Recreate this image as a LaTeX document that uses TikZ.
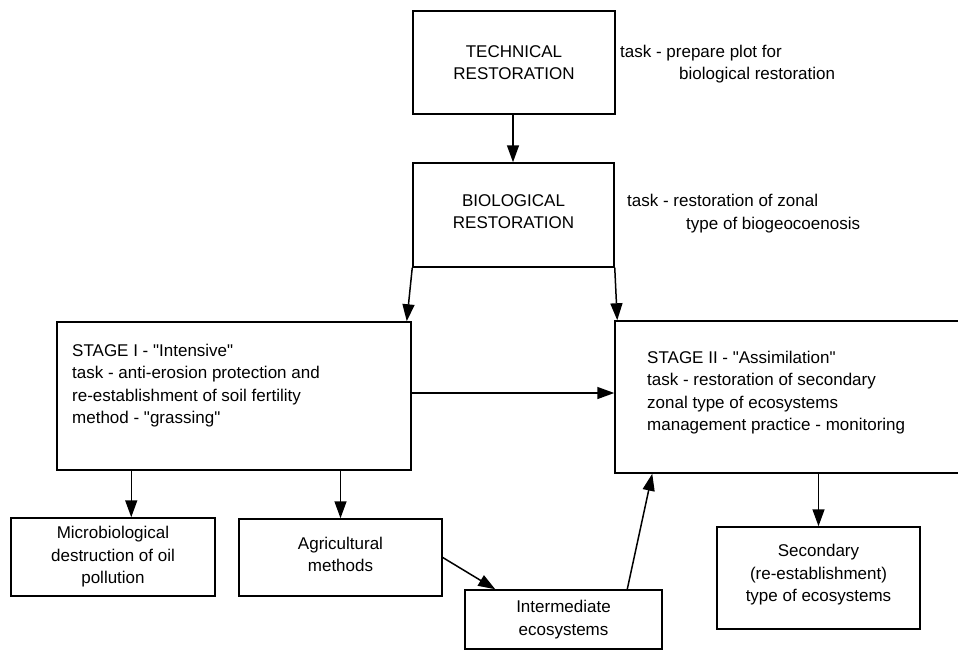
\documentclass[tikz,border=0pt]{standalone}
\usepackage{fontspec}
\setmainfont{Liberation Sans}
\usetikzlibrary{arrows.meta,calc}
\begin{document}
\begin{tikzpicture}[x=1pt,y=-1pt,
  box/.style={draw,line width=1.5pt,inner sep=0pt,align=center,font=\fontsize{17}{22.5}\selectfont},
  txt/.style={inner sep=0pt,align=left,font=\fontsize{17}{22.5}\selectfont},
  arr/.style={line width=1.5pt,-{Triangle[length=17pt,width=12pt]}}]
\useasboundingbox (0,0) rectangle (958,651);
% boxes
\node[box,minimum width=202pt,minimum height=103pt] (tech) at (514,62.5) {TECHNICAL\\RESTORATION};
\node[box,minimum width=201pt,minimum height=104pt,text depth=7pt] (bio) at (513.5,215) {BIOLOGICAL\\RESTORATION};
\node[box,minimum width=354pt,minimum height=148pt] (s1) at (234,396) {};
\node[box,minimum width=360pt,minimum height=152pt] (s2) at (795,397) {};
\node[box,minimum width=204pt,minimum height=78pt] (micro) at (113,557) {Microbiological\\destruction of oil\\pollution};
\node[box,minimum width=203pt,minimum height=77pt,text depth=6pt] (agri) at (340.5,557.5) {Agricultural\\methods};
\node[box,minimum width=197pt,minimum height=59pt] (inter) at (563.5,619.5) {Intermediate\\ecosystems};
\node[box,minimum width=203pt,minimum height=102pt,text depth=9.5pt] (sec) at (818.5,578) {Secondary\\(re-establishment)\\type of ecosystems};
% texts
\node[txt,anchor=west] (t1a) at (620,53) {task - prepare plot for};
\node[txt,anchor=west] (t1b) at (679,75) {biological restoration};
\node[txt,anchor=west] (t2a) at (627,200) {task - restoration of zonal};
\node[txt,anchor=west] (t2b) at (686,225) {type of biogeocoenosis};
\node[txt,anchor=north west] (s1t) at (72,343.5) {STAGE I - \textquotedbl Intensive\textquotedbl\\task - anti-erosion protection and\\re-establishment of soil fertility\\method - \textquotedbl grassing\textquotedbl};
\node[txt,anchor=north west] (s2t) at (647,350.5) {STAGE II - \textquotedbl Assimilation\textquotedbl\\task - restoration of secondary\\zonal type of ecosystems\\management practice - monitoring};
% connectors
\draw[arr] (tech.south -| 513,0) -- (bio.north -| 513,0);
\draw[arr] (bio.south west) -- ($(s1.north east)+(-5,0)$);
\draw[arr] (bio.south east) -- ($(s2.north west)+(3,0)$);
\draw[arr] ($(s1.east)+(0,-3)$) -- ($(s2.west)+(0,-4)$);
\draw[arr] ($(s1.south west)+(75,0)$) -- ($(micro.north west)+(121,0)$);
\draw[arr] (s1.south -| agri.north) -- (agri.north);
\draw[arr] (agri.east) -- ($(inter.north west)+(31,0)$);
\draw[arr] ($(inter.north west)+(163,0)$) -- ($(s2.south west)+(38,0)$);
\draw[arr] (s2.south -| sec.north) -- (sec.north);
\end{tikzpicture}
\end{document}
